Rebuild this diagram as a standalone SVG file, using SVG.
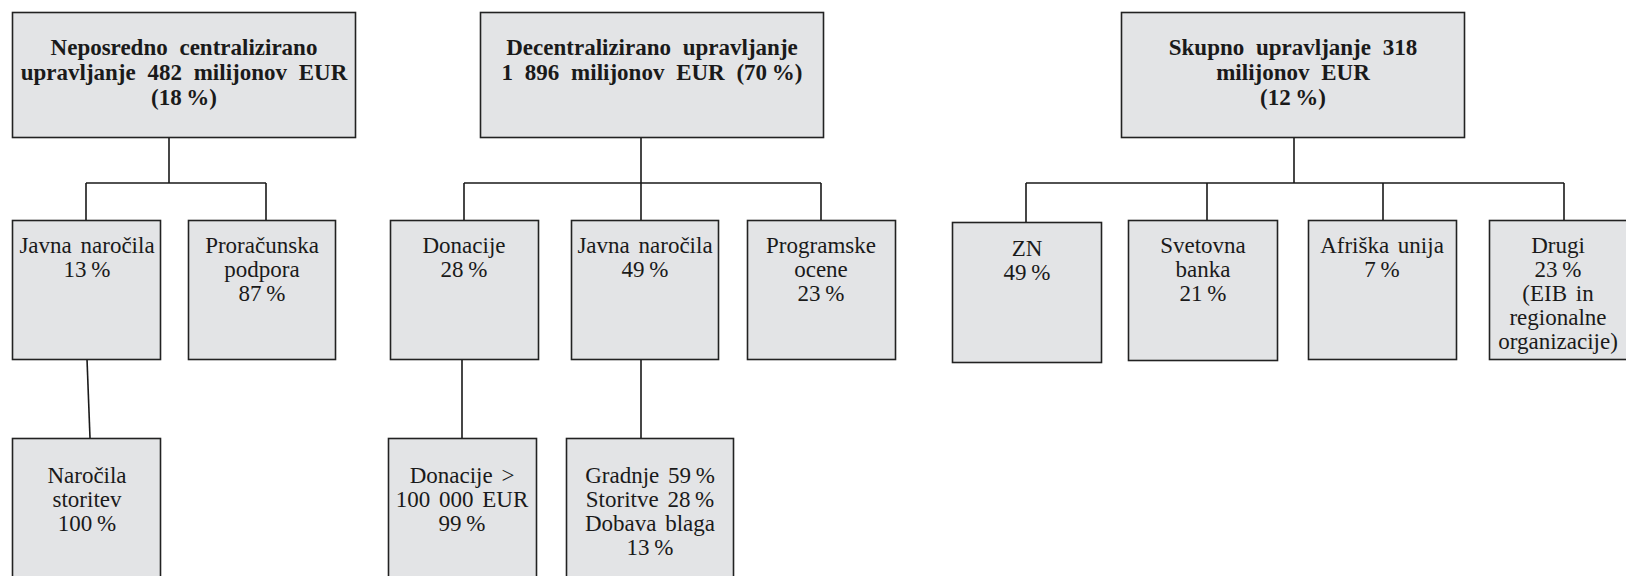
<svg xmlns="http://www.w3.org/2000/svg" width="1626" height="576" viewBox="0 0 1626 576">
<style>
.box{fill:#e3e4e6;stroke:#222;stroke-width:1.6}
.ln{stroke:#1a1a1a;stroke-width:1.6;fill:none}
text{font-family:'Liberation Serif','Times New Roman','DejaVu Serif',serif;fill:#1a1a1a;text-anchor:middle;font-size:23px}
.h{font-weight:bold;word-spacing:6px}
.t{word-spacing:3px}
</style>
<rect width="1626" height="576" fill="#fff"/>
<g id="connectors">
<path class="ln" d="M169 137V183M86 183H266M86 183V220M266 183V220"/>
<path class="ln" d="M87 359L90 438"/>
<path class="ln" d="M641 137V183M464 183H821M464 183V220M641 183V220M821 183V220"/>
<path class="ln" d="M462 359V438M641 359V438"/>
<path class="ln" d="M1294 137V183M1026 183H1564M1026 183V222M1207 183V220M1383 183V220M1564 183V220"/>
</g>
<g id="n1"><rect class="box" x="12.5" y="12.5" width="343" height="125"/>
<text class="h" x="184" y="55" font-family="Liberation Serif, serif">Neposredno centralizirano</text>
<text class="h" x="184" y="80">upravljanje 482 milijonov EUR</text>
<text class="h" x="184" y="105">(18&#8201;%)</text></g>
<g id="n2"><rect class="box" x="480.5" y="12.5" width="343" height="125"/>
<text class="h" x="652" y="55">Decentralizirano upravljanje</text>
<text class="h" x="652" y="80">1 896 milijonov EUR (70&#8201;%)</text></g>
<g id="n3"><rect class="box" x="1121.5" y="12.5" width="343" height="125"/>
<text class="h" x="1293" y="55">Skupno upravljanje 318</text>
<text class="h" x="1293" y="80">milijonov EUR</text>
<text class="h" x="1293" y="105">(12&#8201;%)</text></g>
<g id="n4"><rect class="box" x="12.5" y="220.5" width="148" height="139"/>
<text class="t" x="87" y="253">Javna naročila</text>
<text class="t" x="87" y="277">13&#8201;%</text></g>
<g id="n5"><rect class="box" x="188.5" y="220.5" width="147" height="139"/>
<text class="t" x="262" y="253">Proračunska</text>
<text class="t" x="262" y="277">podpora</text>
<text class="t" x="262" y="301">87&#8201;%</text></g>
<g id="n6"><rect class="box" x="390.5" y="220.5" width="148" height="139"/>
<text class="t" x="464" y="253">Donacije</text>
<text class="t" x="464" y="277">28&#8201;%</text></g>
<g id="n7"><rect class="box" x="571.5" y="220.5" width="147" height="139"/>
<text class="t" x="645" y="253">Javna naročila</text>
<text class="t" x="645" y="277">49&#8201;%</text></g>
<g id="n8"><rect class="box" x="747.5" y="220.5" width="148" height="139"/>
<text class="t" x="821" y="253">Programske</text>
<text class="t" x="821" y="277">ocene</text>
<text class="t" x="821" y="301">23&#8201;%</text></g>
<g id="n9"><rect class="box" x="952.5" y="222.5" width="149" height="140"/>
<text class="t" x="1027" y="256">ZN</text>
<text class="t" x="1027" y="280">49&#8201;%</text></g>
<g id="n10"><rect class="box" x="1128.5" y="220.5" width="149" height="140"/>
<text class="t" x="1203" y="253">Svetovna</text>
<text class="t" x="1203" y="277">banka</text>
<text class="t" x="1203" y="301">21&#8201;%</text></g>
<g id="n11"><rect class="box" x="1308.5" y="220.5" width="148" height="139"/>
<text class="t" x="1382" y="253">Afriška unija</text>
<text class="t" x="1382" y="277">7&#8201;%</text></g>
<g id="n12"><rect class="box" x="1489.5" y="220.5" width="140" height="139"/>
<text class="t" x="1558" y="253">Drugi</text>
<text class="t" x="1558" y="277">23&#8201;%</text>
<text class="t" x="1558" y="301">(EIB in</text>
<text class="t" x="1558" y="325">regionalne</text>
<text class="t" x="1558" y="349">organizacije)</text></g>
<g id="n13"><rect class="box" x="12.5" y="438.5" width="148" height="145"/>
<text class="t" x="87" y="483">Naročila</text>
<text class="t" x="87" y="507">storitev</text>
<text class="t" x="87" y="531">100&#8201;%</text></g>
<g id="n14"><rect class="box" x="388.5" y="438.5" width="148" height="145"/>
<text class="t" x="462" y="483">Donacije &gt;</text>
<text class="t" x="462" y="507">100 000 EUR</text>
<text class="t" x="462" y="531">99&#8201;%</text></g>
<g id="n15"><rect class="box" x="566.5" y="438.5" width="167" height="145"/>
<text class="t" x="650" y="483">Gradnje 59&#8201;%</text>
<text class="t" x="650" y="507">Storitve 28&#8201;%</text>
<text class="t" x="650" y="531">Dobava blaga</text>
<text class="t" x="650" y="555">13&#8201;%</text></g>
</svg>
